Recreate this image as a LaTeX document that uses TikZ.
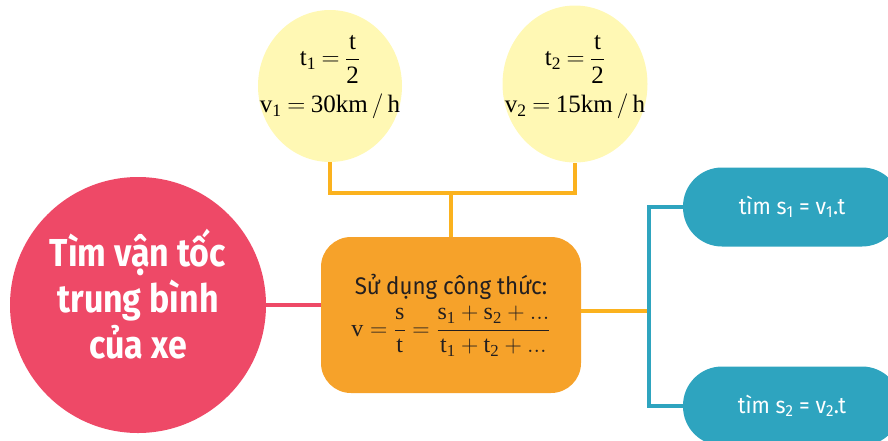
\documentclass[tikz,border=0pt]{standalone}
\usepackage{fix-cm}
\usepackage{amsmath}
\usepackage{fontspec}
\setmainfont{Fira Sans}
\setmathrm{Liberation Serif}
\newfontfamily\headfont[FakeStretch=0.87]{Fira Sans}
\newfontfamily\bodyfont[FakeStretch=0.93]{Fira Sans}
\newcommand{\condfont}{\fontsize{25}{30}\selectfont\thickmuskip 4mu\relax}
\usepackage{tikz}
\usetikzlibrary{shapes.geometric,positioning}
\definecolor{goalred}{HTML}{EE4967}
\definecolor{condyellow}{HTML}{FFF8B4}
\definecolor{formorange}{HTML}{F6A22A}
\definecolor{lineorange}{HTML}{FBB21E}
\definecolor{findteal}{HTML}{2EA4BF}
\definecolor{inkdark}{HTML}{231F20}
\tikzset{
  every picture/.style={line join=miter, line cap=butt},
  goalball/.style={circle, fill=goalred, minimum size=256pt, inner sep=0pt},
  goaltext/.style={text=white, align=center, font=\headfont\bfseries\fontsize{39}{46}\selectfont},
  condblob/.style={ellipse, fill=condyellow, inner sep=0pt},
  condtext/.style={text=black, align=center, font=\condfont},
  formbox/.style={rectangle, rounded corners=30pt, fill=formorange, minimum width=260pt, minimum height=156pt, align=center, text=inkdark, font=\fontsize{24}{28}\selectfont},
  findpill/.style={rectangle, rounded corners=39pt, fill=findteal, minimum width=218pt, minimum height=79pt, text=white, font=\bodyfont\fontsize{23}{26}\selectfont},
  redline/.style={draw=goalred, line width=4pt},
  orangeline/.style={draw=lineorange, line width=4pt},
  tealline/.style={draw=findteal, line width=4pt},
}

\begin{document}
\begin{tikzpicture}[x=1pt,y=-1pt]
\useasboundingbox (0,0) rectangle (888,440);
% given data
\node[condblob, minimum width=144pt, minimum height=152pt] (cond1) at (330,86) {};
\node[condblob, minimum width=145pt, minimum height=157pt] (cond2) at (575,84) {};
\node[condtext] (cond1txt) at (330,77) {$\mathrm{t_1=\dfrac{t}{2}}$\\[10pt]$\mathrm{v_1=30km\,/\,h}$};
\node[condtext] (cond2txt) at (575,77) {$\mathrm{t_2=\dfrac{t}{2}}$\\[10pt]$\mathrm{v_2=15km\,/\,h}$};
% main question and formula
\node[goalball] (goal) at (138,305) {};
\node[goaltext] (goaltxt) at (138,294) {Tìm vận tốc\\trung bình\\của xe};
\node[formbox] (formula) at (451,315) {{\bodyfont Sử dụng công thức:}\\[6pt]
  $\mathrm{v=\dfrac{s}{t}=\dfrac{s_1+s_2+...}{t_1+t_2+...}}$};
% sub steps
\node[findpill] (find1) at (792,207) {tìm s\textsubscript{1} = v\textsubscript{1}.t};
\node[findpill] (find2) at (792,406) {tìm s\textsubscript{2} = v\textsubscript{2}.t};
% connectors
\coordinate (join) at (451,193);
\coordinate (fork) at (649,311);
\draw[orangeline] (cond1.south) |- (join) -| (cond2.south);
\draw[orangeline] (join) -- (formula.north);
\draw[redline] (goal.east) -- (goal.east -| formula.west);
\draw[orangeline] (formula.east |- fork) -- (fork);
\draw[tealline] (find1.west) -| (fork) |- (find2.west);
\end{tikzpicture}
\end{document}
